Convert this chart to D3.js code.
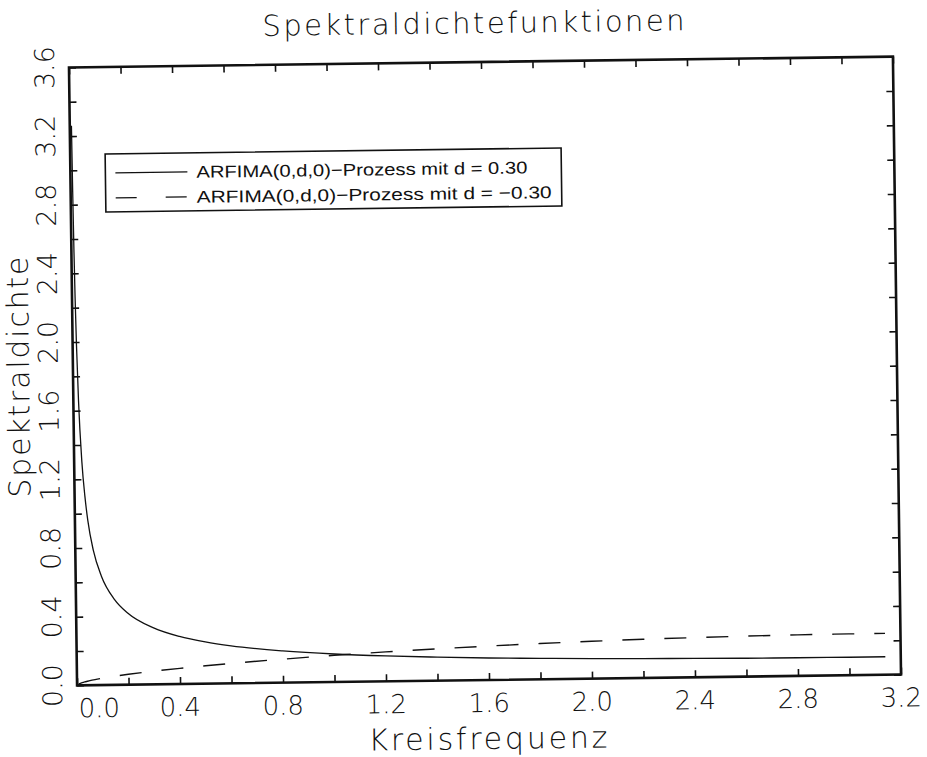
<!DOCTYPE html>
<html>
<head>
<meta charset="utf-8">
<script src="https://cdn.jsdelivr.net/npm/d3@7"></script>
<style>
  body { margin: 0; background: #fff; }
  text { fill: #111; }
</style>
</head>
<body>
<div id="chart"></div>
<script>
// Kreisfrequenz (x) und Spektraldichte fuer d = 0.30 und d = -0.30
var freq = [0.0065, 0.008, 0.01, 0.012, 0.015, 0.02, 0.03, 0.04, 0.05, 0.07, 0.1, 0.15, 0.2, 0.3, 0.4,
            0.5, 0.6, 0.8, 1.0, 1.2, 1.4, 1.6, 1.8, 2.0, 2.2, 2.4, 2.6, 2.8, 3.0, 3.14];
var densPos = [3.26, 2.88, 2.52, 2.26, 1.98, 1.66, 1.30, 1.10, 0.96, 0.785, 0.634, 0.497, 0.418, 0.329, 0.277,
               0.243, 0.218, 0.185, 0.163, 0.148, 0.137, 0.128, 0.122, 0.116, 0.113, 0.110, 0.107, 0.106, 0.105, 0.105];
var densNeg = [0.0078, 0.0088, 0.0100, 0.0112, 0.0128, 0.0153, 0.0195, 0.0230, 0.0264, 0.0323, 0.0400, 0.0510, 0.0606, 0.0770, 0.0914,
               0.1043, 0.1162, 0.1369, 0.1554, 0.1713, 0.1853, 0.1976, 0.2083, 0.2176, 0.2252, 0.2313, 0.2358, 0.2392, 0.2408, 0.2412];
var xTickLabels = ["0.0", "0.4", "0.8", "1.2", "1.6", "2.0", "2.4", "2.8", "3.2"];
var yTickLabels = ["0.0", "0.4", "0.8", "1.2", "1.6", "2.0", "2.4", "2.8", "3.2", "3.6"];
var legendLabels = ["ARFIMA(0,d,0)\u2212Prozess mit d = 0.30", "ARFIMA(0,d,0)\u2212Prozess mit d = \u22120.30"];

var w = 927, h = 757;
var marginLeft = 73, marginTop = 62, contentsWidth = 824, contentsHeight = 618;
var thinFont = "'DejaVu Sans', sans-serif";

var svg = d3.select("#chart").append("svg")
  .attr("width", w)
  .attr("height", h);

// the scan is slightly tilted
var page = svg.append("g")
  .attr("transform", "rotate(-0.75, 485, 371)");

var xScale = d3.scaleLinear().domain([0, 3.2]).range([0, contentsWidth]);
var yScale = d3.scaleLinear().domain([0, 3.6]).range([contentsHeight, 0]);

var chartG = page.append("g")
  .attr("transform", "translate(" + marginLeft + "," + marginTop + ")");

chartG.append("clipPath").attr("id", "plotClip")
  .append("rect")
  .attr("width", contentsWidth)
  .attr("height", contentsHeight);

// ticks inward on all four sides
var tickVals = d3.range(0, 3.21, 0.2);
var yTickVals = d3.range(0, 3.61, 0.2);
function styleAxis(g) {
  g.select(".domain").remove();
  g.selectAll("line").style("stroke", "#111").style("stroke-width", 1.6);
}
chartG.append("g").attr("transform", "translate(0," + contentsHeight + ")")
  .call(d3.axisBottom(xScale).tickValues(tickVals).tickSize(-7).tickFormat("")).call(styleAxis);
chartG.append("g")
  .call(d3.axisTop(xScale).tickValues(tickVals).tickSize(-7).tickFormat("")).call(styleAxis);
chartG.append("g")
  .call(d3.axisLeft(yScale).tickValues(yTickVals).tickSize(-7).tickFormat("")).call(styleAxis);
chartG.append("g").attr("transform", "translate(" + contentsWidth + ",0)")
  .call(d3.axisRight(yScale).tickValues(yTickVals).tickSize(-7).tickFormat("")).call(styleAxis);

// curves
var line = d3.line()
  .x(function(d) { return xScale(d[0]); })
  .y(function(d) { return yScale(d[1]); })
  .curve(d3.curveMonotoneX);

var curves = chartG.append("g").attr("clip-path", "url(#plotClip)");
curves.append("path")
  .datum(freq.map(function(f, i) { return [f, densPos[i]]; }))
  .attr("d", line)
  .style("fill", "none")
  .style("stroke", "#111")
  .style("stroke-width", 1.3);
curves.append("path")
  .datum(freq.map(function(f, i) { return [f, densNeg[i]]; }))
  .attr("d", line)
  .style("fill", "none")
  .style("stroke", "#111")
  .style("stroke-width", 1.4)
  .style("stroke-dasharray", "22,20");

// frame
chartG.append("rect")
  .attr("width", contentsWidth)
  .attr("height", contentsHeight)
  .style("fill", "none")
  .style("stroke", "#111")
  .style("stroke-width", 2.6);

// tick labels
chartG.selectAll(".xlab")
  .data(xTickLabels)
  .enter().append("text")
  .attr("class", "xlab")
  .attr("x", function(d) { return xScale(+d) + (+d === 0 ? 22 : 0); })
  .attr("y", contentsHeight + 32)
  .attr("text-anchor", "middle")
  .style("font-family", thinFont)
  .style("font-weight", 200)
  .style("font-size", "26px")
  .text(function(d) { return d; });

chartG.selectAll(".ylab")
  .data(yTickLabels)
  .enter().append("text")
  .attr("class", "ylab")
  .attr("transform", function(d) { return "translate(-15," + yScale(+d) + ") rotate(-90)"; })
  .attr("text-anchor", "middle")
  .style("font-family", thinFont)
  .style("font-weight", 200)
  .style("font-size", "27px")
  .text(function(d) { return d; });

// titles
page.append("text")
  .attr("x", 478).attr("y", 33)
  .attr("text-anchor", "middle")
  .attr("textLength", 422).attr("lengthAdjust", "spacing")
  .style("font-family", thinFont).style("font-weight", 200).style("font-size", "29px")
  .text("Spektraldichtefunktionen");

page.append("text")
  .attr("x", 483).attr("y", 749)
  .attr("text-anchor", "middle")
  .attr("textLength", 239).attr("lengthAdjust", "spacing")
  .style("font-family", thinFont).style("font-weight", 200).style("font-size", "30px")
  .text("Kreisfrequenz");

page.append("text")
  .attr("transform", "translate(29,371) rotate(-90)")
  .attr("text-anchor", "middle")
  .attr("textLength", 241).attr("lengthAdjust", "spacing")
  .style("font-family", thinFont).style("font-weight", 200).style("font-size", "30px")
  .text("Spektraldichte");

// legend
var legend = page.append("g").attr("transform", "translate(108,149)");
legend.append("rect")
  .attr("width", 456).attr("height", 58)
  .style("fill", "#fff").style("stroke", "#111").style("stroke-width", 1.6);

var legendRows = legend.selectAll(".row")
  .data(legendLabels)
  .enter().append("g")
  .attr("class", "row")
  .attr("transform", function(d, i) { return "translate(0," + (19 + i * 25) + ")"; });

legendRows.append("line")
  .attr("x1", 10).attr("x2", 82)
  .style("stroke", "#111").style("stroke-width", 1.3)
  .style("stroke-dasharray", function(d, i) { return i === 0 ? null : "21,29"; });

legendRows.append("text")
  .attr("x", 91).attr("y", 6)
  .attr("textLength", function(d, i) { return i === 0 ? 331 : 355; })
  .attr("lengthAdjust", "spacingAndGlyphs")
  .style("font-family", "'Liberation Sans', Arial, sans-serif")
  .style("font-size", "17px")
  .text(function(d) { return d; });
</script>
</body>
</html>
